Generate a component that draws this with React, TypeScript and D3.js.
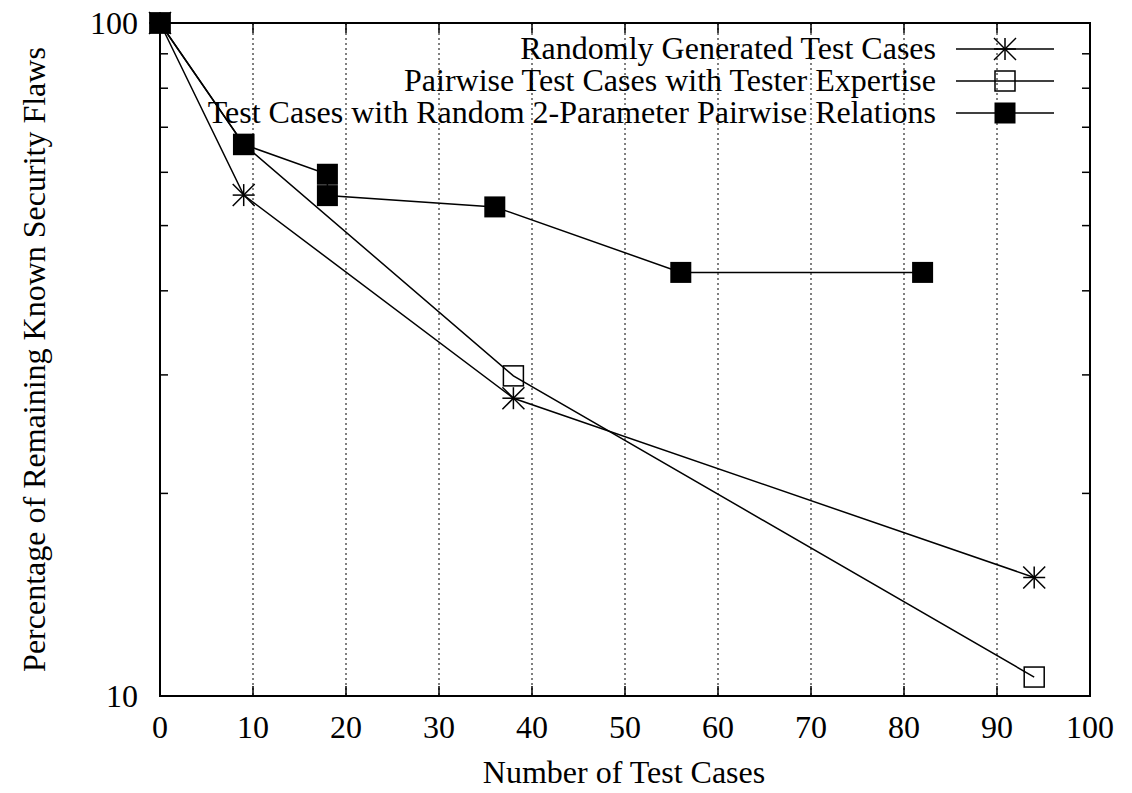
import React from "react";
import * as d3 from "d3";

const xTicks = [0, 10, 20, 30, 40, 50, 60, 70, 80, 90, 100];
const yMajorTicks = [10, 100];
const yMinorTicks = [20, 30, 40, 50, 60, 70, 80, 90];

const randomX = [0, 9, 38, 94];
const randomY = [100, 55.5, 27.7, 15];
const pairwiseX = [0, 9, 38, 94];
const pairwiseY = [100, 66, 29.9, 10.67];
const relX = [0, 9, 18, 18, 36, 56, 82];
const relY = [100, 66, 59.6, 55.4, 53.3, 42.6, 42.6];

const legendLabels = [
  "Randomly Generated Test Cases",
  "Pairwise Test Cases with Tester Expertise",
  "Test Cases with Random 2-Parameter Pairwise Relations",
];

const W = 1132, H = 793;
const L = 160, R = 1090, T = 23, B = 696;
const FONT = "'Liberation Serif', 'Times New Roman', serif";
const FS = 32;

function Star({ x, y }: { x: number; y: number }) {
  const s = 11;
  return (
    <g stroke="#000" strokeWidth={1.5}>
      <line x1={x - s} y1={y} x2={x + s} y2={y} />
      <line x1={x} y1={y - s} x2={x} y2={y + s} />
      <line x1={x - s} y1={y - s} x2={x + s} y2={y + s} />
      <line x1={x - s} y1={y + s} x2={x + s} y2={y - s} />
    </g>
  );
}
function OpenSq({ x, y }: { x: number; y: number }) {
  const s = 10;
  return <rect x={x - s} y={y - s} width={2 * s} height={2 * s} fill="none" stroke="#000" strokeWidth={1.5} />;
}
function FilledSq({ x, y }: { x: number; y: number }) {
  const s = 10.5;
  return <rect x={x - s} y={y - s} width={2 * s} height={2 * s} fill="#000" />;
}

export default function App() {
  const xs = d3.scaleLinear().domain([0, 100]).range([L, R]);
  const ys = d3.scaleLog().domain([10, 100]).range([B, T]);
  const line = d3.line<[number, number]>().x((d) => xs(d[0])).y((d) => ys(d[1]));
  const series = [
    { xsv: randomX, ysv: randomY, M: Star },
    { xsv: pairwiseX, ysv: pairwiseY, M: OpenSq },
    { xsv: relX, ysv: relY, M: FilledSq },
  ];
  return (
    <svg width={W} height={H} style={{ position: "absolute", left: 0, top: 0, background: "#fff" }} fontFamily={FONT}>
      <rect width={W} height={H} fill="#fff" />
      {/* grid */}
      {xTicks.filter((t) => t > 0 && t < 100).map((t) => (
        <line key={"g" + t} x1={xs(t)} x2={xs(t)} y1={T} y2={B} stroke="#000" strokeWidth={1} strokeDasharray="2,3" />
      ))}
      {/* x ticks */}
      {xTicks.map((t) => (
        <g key={"xt" + t}>
          <line x1={xs(t)} x2={xs(t)} y1={B} y2={B - 10} stroke="#000" strokeWidth={1.5} />
          <line x1={xs(t)} x2={xs(t)} y1={T} y2={T + 10} stroke="#000" strokeWidth={1.5} />
          <text x={xs(t)} y={738} textAnchor="middle" fontSize={FS}>{t}</text>
        </g>
      ))}
      {/* y ticks */}
      {yMinorTicks.map((t) => (
        <g key={"ym" + t}>
          <line x1={L} x2={L + 8} y1={ys(t)} y2={ys(t)} stroke="#000" strokeWidth={1.5} />
          <line x1={R} x2={R - 8} y1={ys(t)} y2={ys(t)} stroke="#000" strokeWidth={1.5} />
        </g>
      ))}
      {yMajorTicks.map((t) => (
        <text key={"yl" + t} x={138} y={ys(t) + 11} textAnchor="end" fontSize={FS}>{t}</text>
      ))}
      {/* axis labels */}
      <text x={624} y={783} textAnchor="middle" fontSize={FS}>Number of Test Cases</text>
      <text transform={`translate(45,${(T + B) / 2}) rotate(-90)`} textAnchor="middle" fontSize={FS}>Percentage of Remaining Known Security Flaws</text>
      {/* data */}
      {series.map((s, i) => {
        const pts = s.xsv.map((x, j) => [x, s.ysv[j]] as [number, number]);
        const M = s.M;
        return (
          <g key={"s" + i}>
            <path d={line(pts) || ""} fill="none" stroke="#000" strokeWidth={1.5} />
            {pts.map((p, j) => <M key={j} x={xs(p[0])} y={ys(p[1])} />)}
          </g>
        );
      })}
      {/* legend */}
      {legendLabels.map((lab, i) => {
        const y = 49 + i * 32;
        const M = series[i].M;
        return (
          <g key={"lg" + i}>
            <text x={936} y={y + 10} textAnchor="end" fontSize={FS}>{lab}</text>
            <line x1={956} x2={1054} y1={y} y2={y} stroke="#000" strokeWidth={1.5} />
            <M x={1005} y={y} />
          </g>
        );
      })}
      {/* border */}
      <rect x={L} y={T} width={R - L} height={B - T} fill="none" stroke="#000" strokeWidth={2} />
    </svg>
  );
}
